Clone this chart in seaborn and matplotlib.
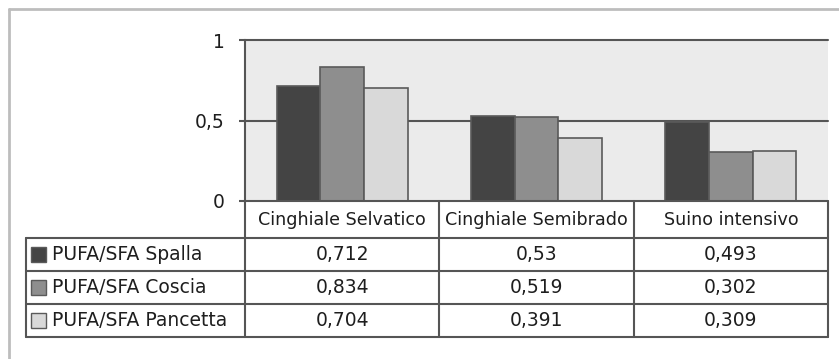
import numpy as np
import pandas as pd
import matplotlib
matplotlib.use("Agg")
import matplotlib.pyplot as plt
from matplotlib.patches import Rectangle
from matplotlib.lines import Line2D
import seaborn as sns

# dati
categories = ["Cinghiale Selvatico", "Cinghiale Semibrado", "Suino intensivo"]
series = ["PUFA/SFA Spalla", "PUFA/SFA Coscia", "PUFA/SFA Pancetta"]
spalla = [0.712, 0.53, 0.493]
coscia = [0.834, 0.519, 0.302]
pancetta = [0.704, 0.391, 0.309]
yticks = [0, 0.5, 1]
ytick_labels = ["0", "0,5", "1"]
colors = ["#444444", "#8e8e8e", "#d9d9d9"]

df = pd.DataFrame({
    "categoria": categories * 3,
    "serie": np.repeat(series, len(categories)),
    "valore": spalla + coscia + pancetta,
})

sns.set_style("white")
plt.rcParams["font.family"] = ["DejaVu Sans"]

W, H = 839, 359
LINE = "#555555"
TXT = "#1e1e1e"


def fx(px):
    return px / W


def fy(py):
    return 1 - py / H


fig = plt.figure(figsize=(W / 100, H / 100), dpi=100)

# grafico a barre
ax = fig.add_axes([fx(245), fy(201), fx(828) - fx(245), fy(40) - fy(201)])
sns.barplot(data=df, x="categoria", y="valore", hue="serie", palette=colors,
            width=0.675, edgecolor="#5a5a5a", linewidth=1.2, legend=False,
            ax=ax, zorder=3)
ax.set_xlim(-0.5, 2.5)
ax.set_ylim(0, 1)
ax.set_facecolor("#ebebeb")
for y in yticks[1:]:
    ax.axhline(y, color=LINE, lw=1.5, zorder=1, clip_on=False)
ax.set_yticks(yticks, ytick_labels)
ax.set_xticks([])
ax.set_xlabel("")
ax.set_ylabel("")
for s in ["top", "right", "bottom"]:
    ax.spines[s].set_visible(False)
ax.spines["left"].set_color(LINE)
ax.spines["left"].set_linewidth(1.5)
ax.tick_params(axis="y", length=4.5, width=1.5, color=LINE, pad=10,
               labelsize=13.5, labelcolor=TXT, left=True)

# tabella dati sotto il grafico
u = 3 / (828 - 245)  # unita' categoria per pixel
x_left = -0.5 - (245 - 26) * u
tax = fig.add_axes([fx(26), fy(337), fx(828) - fx(26), fy(201) - fy(337)])
tax.set_xlim(x_left, 2.5)
tax.set_ylim(337, 201)
tax.axis("off")

rows_y = [238, 270.5, 303.5, 337]
kw = dict(color=LINE, lw=1.5, clip_on=False)
tax.plot([-0.5, 2.5], [201, 201], **kw)
for y in rows_y:
    tax.plot([x_left, 2.5], [y, y], **kw)
for xv in [-0.5, 0.5, 1.5, 2.5]:
    tax.plot([xv, xv], [201, 337], **kw)
tax.plot([x_left, x_left], [238, 337], **kw)

for i, cat in enumerate(categories):
    tax.text(i, 220, cat, ha="center", va="center", fontsize=12.6, color=TXT)

values = [spalla, coscia, pancetta]
for r, (name, vals, col) in enumerate(zip(series, values, colors)):
    yc = (rows_y[r] + rows_y[r + 1]) / 2
    tax.add_patch(Rectangle((x_left + 5 * u, yc - 7.5), 15 * u, 15,
                            facecolor=col, edgecolor="#5a5a5a", lw=1))
    tax.text(x_left + 26 * u, yc + 0.5, name, ha="left", va="center",
             fontsize=13.5, color=TXT)
    for i, v in enumerate(vals):
        tax.text(i, yc + 0.5, f"{v:g}".replace(".", ","), ha="center",
                 va="center", fontsize=13.5, color=TXT)

# cornice esterna
fig.add_artist(Line2D([fx(9), fx(9)], [fy(9), 0], color="#bdbdbd", lw=2))
fig.add_artist(Line2D([fx(9), 1], [fy(9), fy(9)], color="#bdbdbd", lw=2))

fig.savefig("out.png", dpi=100)
